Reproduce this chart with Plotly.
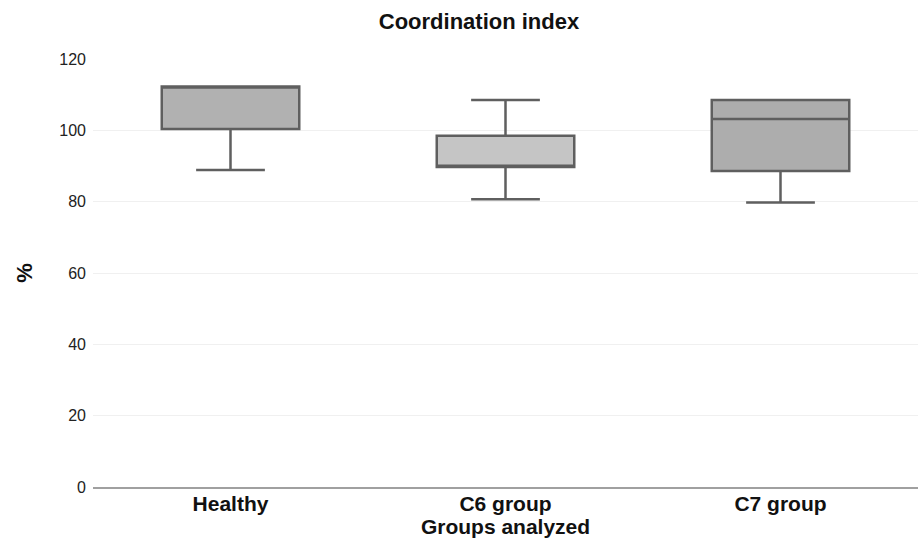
import plotly.graph_objects as go

categories = ["Healthy", "C6 group", "C7 group"]
lower_whisker = [88.9, 80.7, 79.8]
q1_vals = [100.4, 89.7, 88.6]
median_vals = [112.3, 90.1, 103.2]
q3_vals = [112.3, 98.5, 108.5]
upper_whisker = [112.3, 108.5, 108.5]
fill_colors = ["#b1b1b1", "#c5c5c5", "#adadad"]
y_ticks = [0, 20, 40, 60, 80, 100, 120]

FONT = "Liberation Sans, Arial, sans-serif"

fig = go.Figure()
for i, cat in enumerate(categories):
    fig.add_trace(go.Box(
        x=[cat],
        q1=[q1_vals[i]], median=[median_vals[i]], q3=[q3_vals[i]],
        lowerfence=[lower_whisker[i]], upperfence=[upper_whisker[i]],
        fillcolor=fill_colors[i],
        line=dict(color="#5f5f5f", width=2.5),
        width=0.5, whiskerwidth=0.5,
        boxpoints=False, showlegend=False, hoverinfo="skip",
    ))

fig.update_layout(
    width=918, height=543,
    margin=dict(l=93, r=0, t=59, b=56, autoexpand=False),
    paper_bgcolor="white", plot_bgcolor="white",
    boxmode="overlay",
    font=dict(family=FONT, color="#111111"),
    title=dict(text="<b>Coordination index</b>", x=479 / 918, xref="container",
               y=1 - 21 / 543, yref="container", xanchor="center", yanchor="middle",
               font=dict(size=22, color="#111111", family=FONT)),
    xaxis=dict(
        categoryorder="array", categoryarray=categories,
        range=[-0.5, 2.5], automargin=False,
        showline=True, linecolor="#a0a0a0", linewidth=2,
        showgrid=False, ticks="", zeroline=False,
        tickfont=dict(size=21, color="#111111", family=FONT),
        tickprefix="<b>", ticksuffix="</b>",
        ticklabelstandoff=-3,
        title=dict(text="<b>Groups analyzed</b>", font=dict(size=21, color="#111111", family=FONT), standoff=2),
    ),
    yaxis=dict(
        range=[0, 120], tickvals=y_ticks, automargin=False,
        showline=False, showgrid=True, gridcolor="#f0f0f0", gridwidth=1,
        zeroline=False, ticks="",
        tickfont=dict(size=16, color="#222222", family=FONT),
        ticklabelstandoff=6,
        title=dict(text="<b>%</b>", font=dict(size=22, color="#111111", family=FONT), standoff=20),
    ),
)

fig.write_html("out.html", config={"displayModeBar": False},
               post_script="document.body.style.margin='0';")
